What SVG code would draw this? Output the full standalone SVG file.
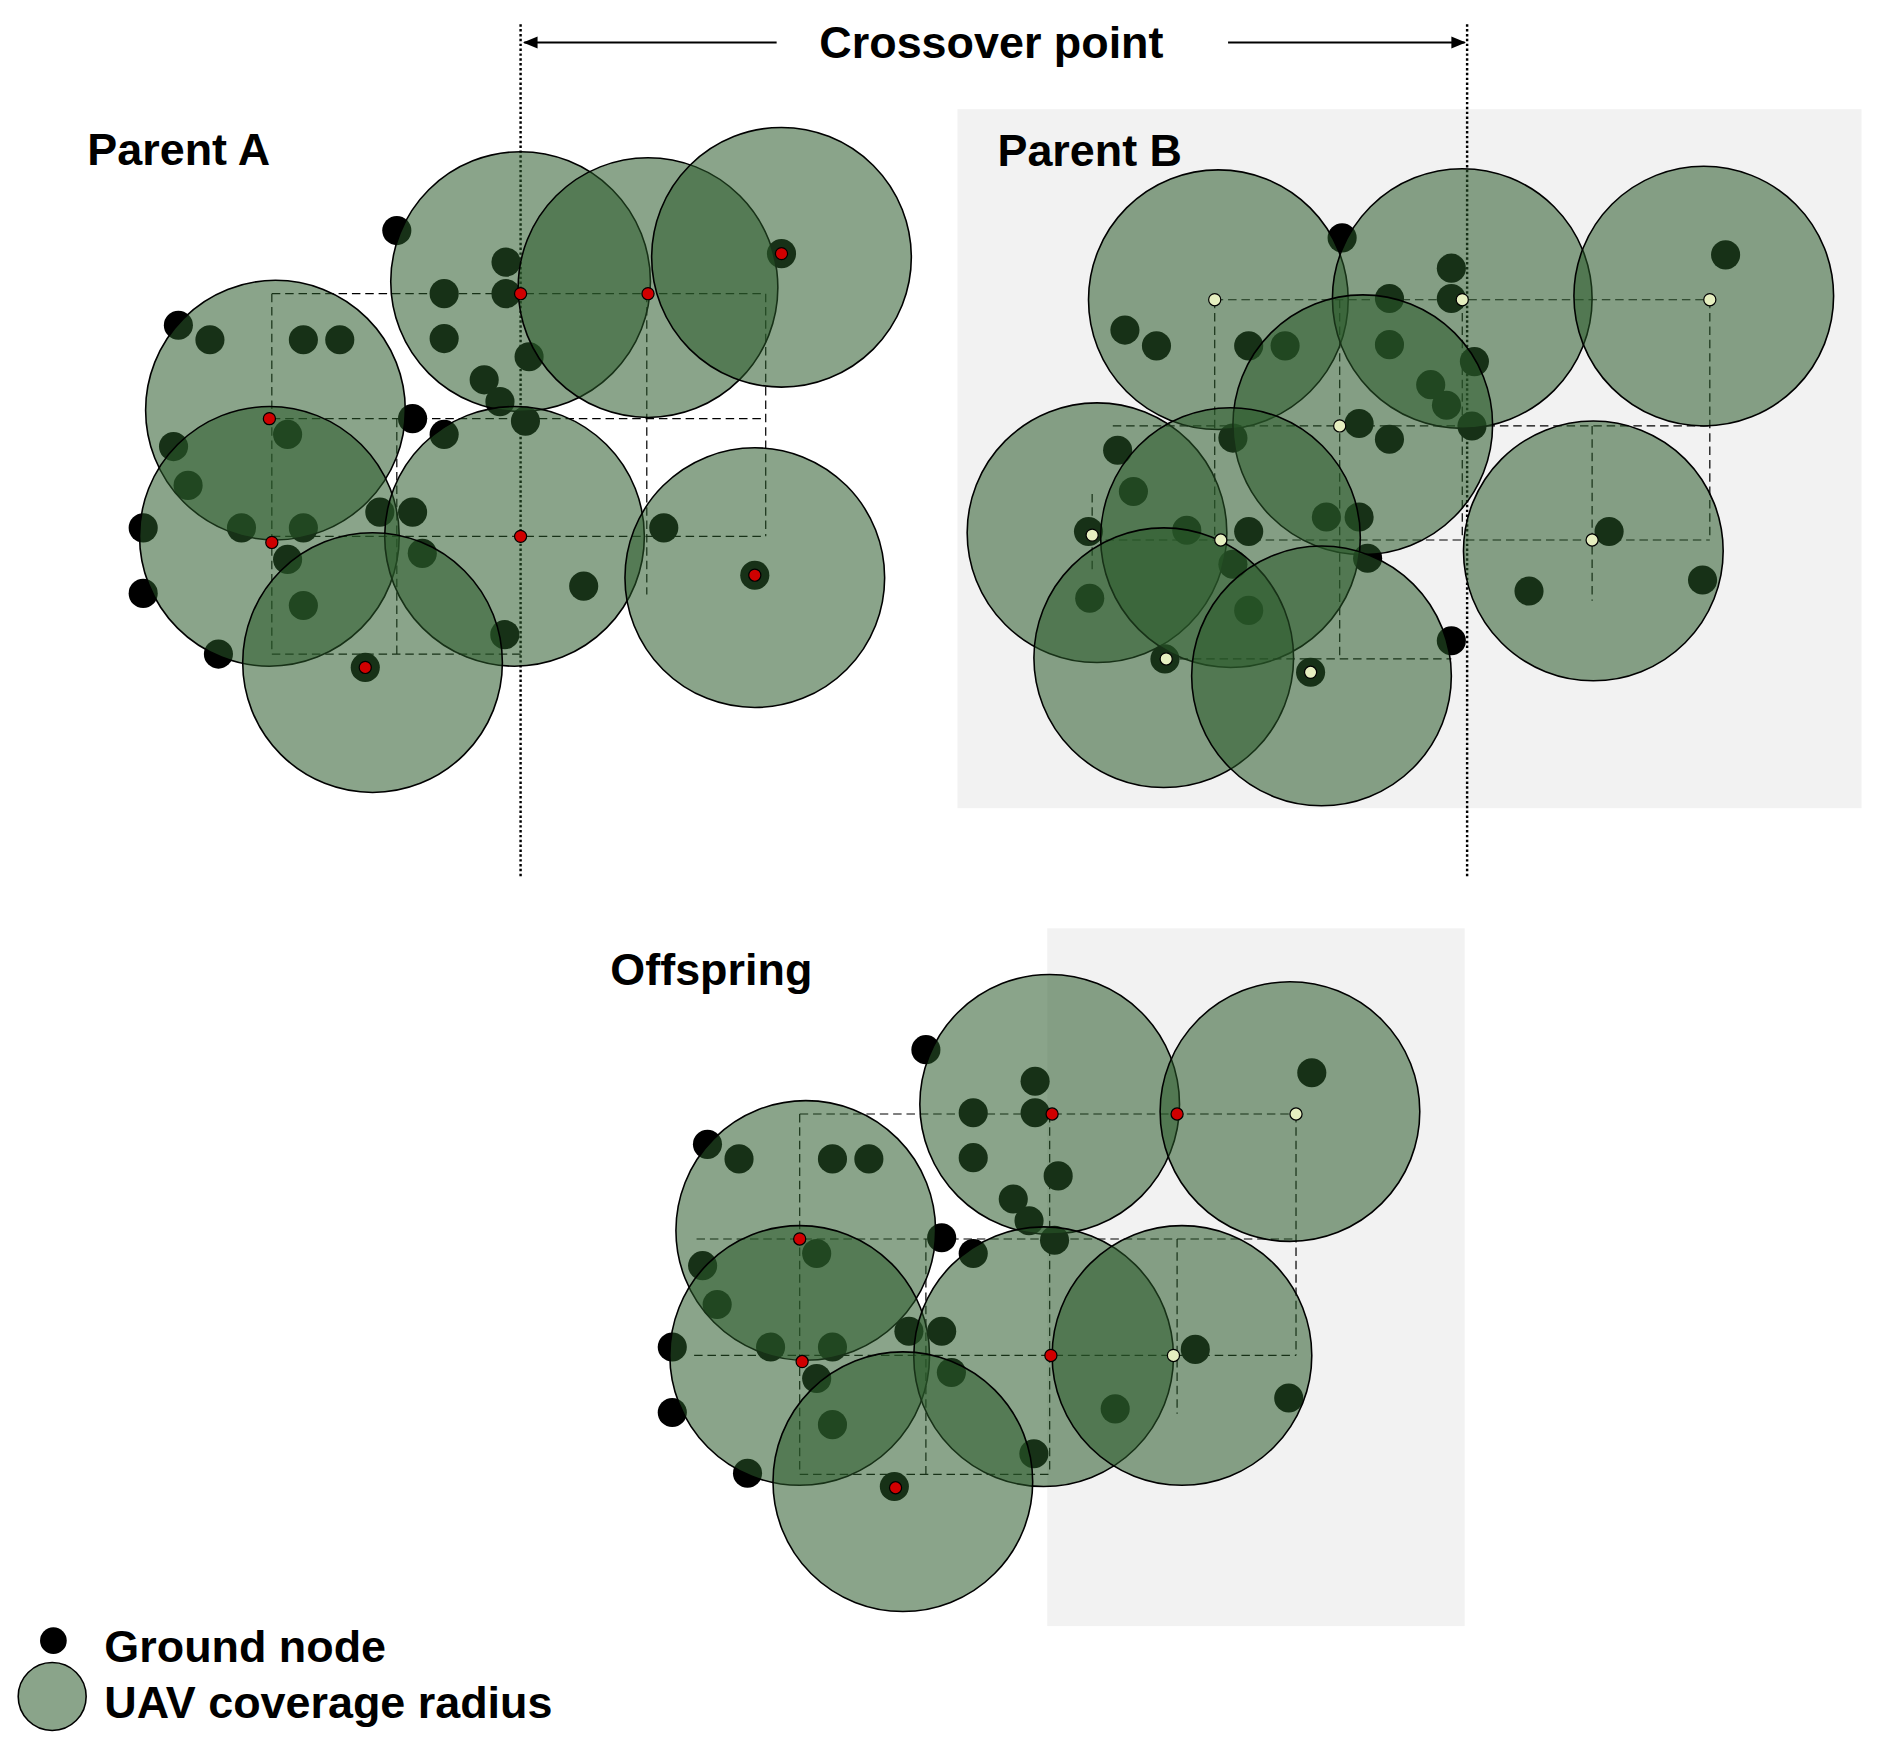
<svg xmlns="http://www.w3.org/2000/svg" width="1881" height="1746" viewBox="0 0 1881 1746">
<defs>
<style>
.c{fill:#2a5a2a;fill-opacity:0.55;stroke:#000;stroke-width:1.3}
.g{fill:#000}
.r{fill:#d00000;stroke:#000;stroke-width:1}
.y{fill:#e6efc0;stroke:#000;stroke-width:1}
.d{fill:none;stroke:#000;stroke-width:1;stroke-dasharray:7,4}
.t{font-family:"Liberation Sans",Arial,sans-serif;font-weight:bold;fill:#000}
</style>
<marker id="ah" markerWidth="12" markerHeight="10" refX="11" refY="5" orient="auto" markerUnits="userSpaceOnUse"><path d="M0,0 L12,5 L0,10 Z" fill="#000"/></marker>
</defs>
<rect width="1881" height="1746" fill="#fff"/>
<g transform="scale(1.2135)">
<rect x="789" y="90" width="745" height="576" fill="#f2f2f2"/>
<rect x="863" y="765" width="344" height="575" fill="#f2f2f2"/>

<g id="connectors">
<line x1="429" y1="20" x2="429" y2="724" stroke="#000" stroke-width="2" stroke-dasharray="2,2"/>
<line x1="1209" y1="20" x2="1209" y2="724" stroke="#000" stroke-width="2" stroke-dasharray="2,2"/>
<line x1="640" y1="35" x2="432" y2="35" stroke="#000" stroke-width="1.5" marker-end="url(#ah)"/>
<line x1="1012" y1="35" x2="1207" y2="35" stroke="#000" stroke-width="1.5" marker-end="url(#ah)"/>
<path class="d" d="M224,242H631M224,345H631M224,442H631M224,539H429M224,242V539M327,345V539M533,242V490M631,242V442"/>
<path class="d" d="M1001,247H1409M917,351H1409M900,445H1409M961,543H1196M1001,247V445M1104,247V543M1205,247V445M1312,351V495M1409,247V445M900,407V470"/>
<path class="d" d="M659,918H1068M574,1021H1068M572,1117H1068M659,1215H865M659,918V1215M763,1021V1215M865,918V1215M970,1021V1165M1068,918V1117"/>
</g>

<g id="parentA">
<g class="g">
<circle cx="327" cy="190" r="12"/><circle cx="417" cy="216" r="12"/><circle cx="366" cy="242" r="12"/><circle cx="417" cy="242" r="12"/><circle cx="366" cy="279" r="12"/><circle cx="436" cy="294" r="12"/><circle cx="399" cy="313" r="12"/><circle cx="412" cy="331" r="12"/><circle cx="433" cy="347" r="12"/><circle cx="340" cy="345" r="12"/><circle cx="366" cy="358" r="12"/><circle cx="147" cy="268" r="12"/><circle cx="173" cy="280" r="12"/><circle cx="250" cy="280" r="12"/><circle cx="280" cy="280" r="12"/><circle cx="143" cy="368" r="12"/><circle cx="237" cy="358" r="12"/><circle cx="155" cy="400" r="12"/><circle cx="118" cy="435" r="12"/><circle cx="199" cy="435" r="12"/><circle cx="250" cy="435" r="12"/><circle cx="313" cy="422" r="12"/><circle cx="340" cy="422" r="12"/><circle cx="237" cy="461" r="12"/><circle cx="348" cy="456" r="12"/><circle cx="118" cy="489" r="12"/><circle cx="250" cy="499" r="12"/><circle cx="180" cy="539" r="12"/><circle cx="416" cy="523" r="12"/><circle cx="481" cy="483" r="12"/><circle cx="547" cy="435" r="12"/><circle cx="644" cy="209" r="12"/><circle cx="622" cy="474" r="12"/><circle cx="301" cy="550" r="12"/>
</g>
<circle class="c" cx="429" cy="232" r="107"/><circle class="c" cx="534" cy="237" r="107"/><circle class="c" cx="644" cy="212" r="107"/><circle class="c" cx="227" cy="338" r="107"/><circle class="c" cx="222" cy="442" r="107"/><circle class="c" cx="424" cy="442" r="107"/><circle class="c" cx="307" cy="546" r="107"/><circle class="c" cx="622" cy="476" r="107"/>
<g class="r"><circle cx="429" cy="242" r="5"/><circle cx="534" cy="242" r="5"/><circle cx="644" cy="209" r="5"/><circle cx="222" cy="345" r="5"/><circle cx="224" cy="447" r="5"/><circle cx="429" cy="442" r="5"/><circle cx="301" cy="550" r="5"/><circle cx="622" cy="474" r="5"/></g>
</g>

<g id="parentB">
<g class="g">
<circle cx="1106" cy="196" r="12"/><circle cx="1196" cy="221" r="12"/><circle cx="1145" cy="246" r="12"/><circle cx="1196" cy="246" r="12"/><circle cx="927" cy="272" r="12"/><circle cx="953" cy="285" r="12"/><circle cx="1029" cy="285" r="12"/><circle cx="1059" cy="285" r="12"/><circle cx="1145" cy="284" r="12"/><circle cx="1215" cy="298" r="12"/><circle cx="1179" cy="317" r="12"/><circle cx="1192" cy="334" r="12"/><circle cx="1213" cy="351" r="12"/><circle cx="1120" cy="349" r="12"/><circle cx="1145" cy="362" r="12"/><circle cx="1016" cy="361" r="12"/><circle cx="921" cy="371" r="12"/><circle cx="934" cy="405" r="12"/><circle cx="897" cy="438" r="12"/><circle cx="978" cy="437" r="12"/><circle cx="1029" cy="438" r="12"/><circle cx="1093" cy="426" r="12"/><circle cx="1120" cy="426" r="12"/><circle cx="1016" cy="465" r="12"/><circle cx="1127" cy="460" r="12"/><circle cx="898" cy="493" r="12"/><circle cx="1029" cy="503" r="12"/><circle cx="960" cy="543" r="12"/><circle cx="1196" cy="528" r="12"/><circle cx="1260" cy="487" r="12"/><circle cx="1326" cy="438" r="12"/><circle cx="1403" cy="478" r="12"/><circle cx="1422" cy="210" r="12"/><circle cx="1080" cy="554" r="12"/>
</g>
<circle class="c" cx="1004" cy="247" r="107"/><circle class="c" cx="1205" cy="246" r="107"/><circle class="c" cx="1404" cy="244" r="107"/><circle class="c" cx="1123" cy="350" r="107"/><circle class="c" cx="904" cy="439" r="107"/><circle class="c" cx="1014" cy="443" r="107"/><circle class="c" cx="1313" cy="454" r="107"/><circle class="c" cx="959" cy="542" r="107"/><circle class="c" cx="1089" cy="557" r="107"/>
<g class="y"><circle cx="1001" cy="247" r="5"/><circle cx="1205" cy="247" r="5"/><circle cx="1409" cy="247" r="5"/><circle cx="1104" cy="351" r="5"/><circle cx="900" cy="441" r="5"/><circle cx="1006" cy="445" r="5"/><circle cx="1312" cy="445" r="5"/><circle cx="961" cy="543" r="5"/><circle cx="1080" cy="554" r="5"/></g>
</g>

<g id="offspring">
<g class="g">
<g transform="translate(436,675)">
<circle cx="327" cy="190" r="12"/><circle cx="417" cy="216" r="12"/><circle cx="366" cy="242" r="12"/><circle cx="417" cy="242" r="12"/><circle cx="366" cy="279" r="12"/><circle cx="436" cy="294" r="12"/><circle cx="399" cy="313" r="12"/><circle cx="412" cy="331" r="12"/><circle cx="433" cy="347" r="12"/><circle cx="340" cy="345" r="12"/><circle cx="366" cy="358" r="12"/><circle cx="147" cy="268" r="12"/><circle cx="173" cy="280" r="12"/><circle cx="250" cy="280" r="12"/><circle cx="280" cy="280" r="12"/><circle cx="143" cy="368" r="12"/><circle cx="237" cy="358" r="12"/><circle cx="155" cy="400" r="12"/><circle cx="118" cy="435" r="12"/><circle cx="199" cy="435" r="12"/><circle cx="250" cy="435" r="12"/><circle cx="313" cy="422" r="12"/><circle cx="340" cy="422" r="12"/><circle cx="237" cy="461" r="12"/><circle cx="348" cy="456" r="12"/><circle cx="118" cy="489" r="12"/><circle cx="250" cy="499" r="12"/><circle cx="180" cy="539" r="12"/><circle cx="416" cy="523" r="12"/><circle cx="301" cy="550" r="12"/>
</g>
<g transform="translate(-341,674)"><circle cx="1260" cy="487" r="12"/><circle cx="1326" cy="438" r="12"/><circle cx="1403" cy="478" r="12"/><circle cx="1422" cy="210" r="12"/></g>
</g>
<circle class="c" cx="865" cy="910" r="107"/><circle class="c" cx="1063" cy="916" r="107"/><circle class="c" cx="664" cy="1014" r="107"/><circle class="c" cx="659" cy="1117" r="107"/><circle class="c" cx="860" cy="1118" r="107"/><circle class="c" cx="974" cy="1117" r="107"/><circle class="c" cx="744" cy="1221" r="107"/>
<g class="r"><circle cx="867" cy="918" r="5"/><circle cx="970" cy="918" r="5"/><circle cx="659" cy="1021" r="5"/><circle cx="661" cy="1122" r="5"/><circle cx="866" cy="1117" r="5"/><circle cx="738" cy="1226" r="5"/></g>
<g class="y"><circle cx="1068" cy="918" r="5"/><circle cx="967" cy="1117" r="5"/></g>
</g>

<g id="labels">
<text class="t" x="817" y="48" font-size="37" text-anchor="middle">Crossover point</text>
<text class="t" x="72" y="136" font-size="37">Parent A</text>
<text class="t" x="822" y="137" font-size="37">Parent B</text>
<text class="t" x="503" y="812" font-size="37">Offspring</text>
</g>
<g id="legend">
<circle cx="44" cy="1352" r="11" fill="#000"/>
<circle class="c" cx="43" cy="1398" r="28"/>
<text class="t" x="86" y="1370" font-size="37">Ground node</text>
<text class="t" x="86" y="1416" font-size="37">UAV coverage radius</text>
</g>
</g>
</svg>
